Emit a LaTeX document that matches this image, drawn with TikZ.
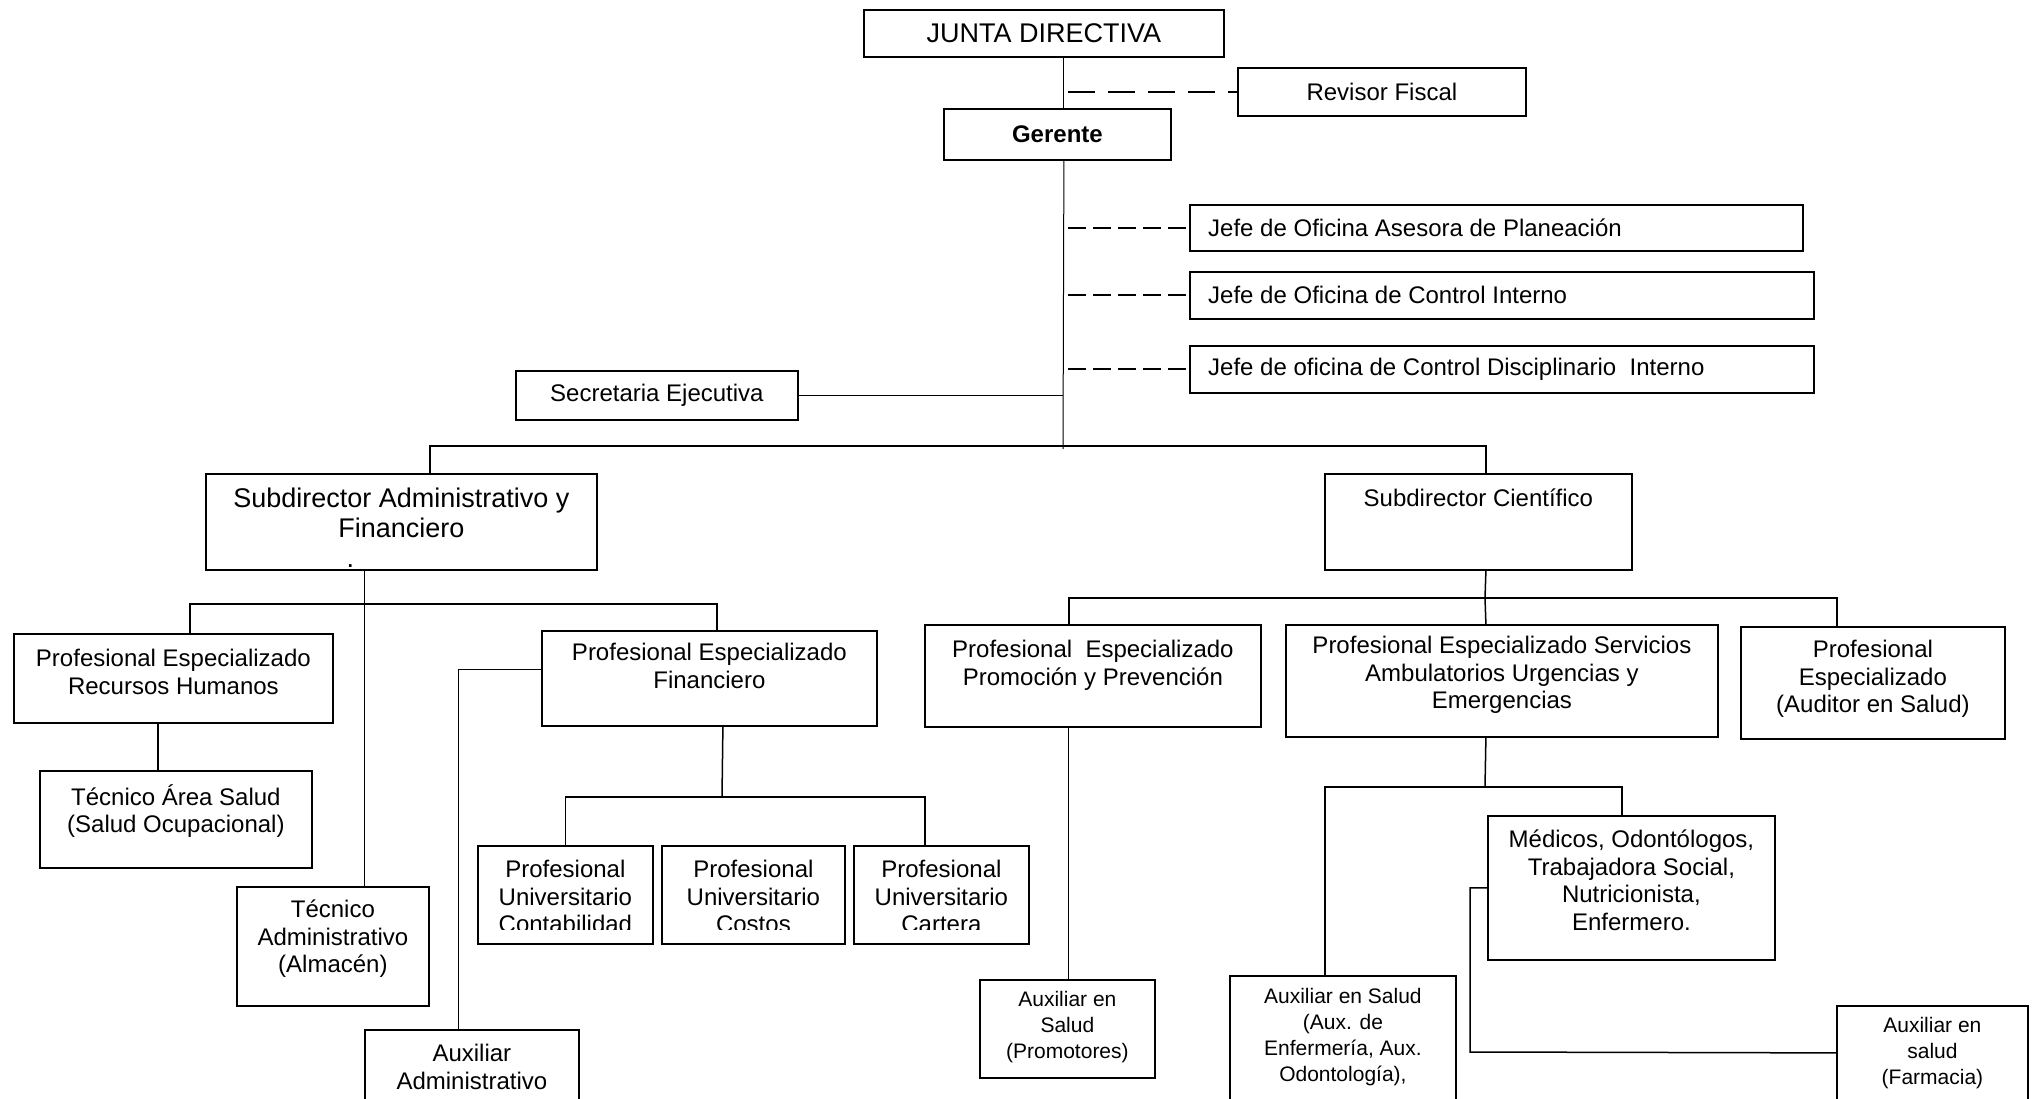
\documentclass[tikz,border=0pt]{standalone}
\usepackage{fontspec}
\setmainfont{Liberation Sans}
\usetikzlibrary{positioning,scopes}

\begin{document}
\begin{tikzpicture}[x=1pt,y=-1pt,
    box/.style={draw,line width=1.8pt,inner sep=0pt,anchor=north west,font=\fontsize{24}{27.5}\selectfont},
    txt/.style={inner sep=0pt,align=center,font=\fontsize{24}{27.5}\selectfont,execute at begin node=\strut},
    lefttxt/.style={inner sep=0pt,font=\fontsize{24}{27.5}\selectfont},
    big/.style={font=\fontsize{27}{30}\selectfont},
    small/.style={font=\fontsize{21}{26}\selectfont},
    link/.style={line width=1.5pt},
    thinlink/.style={line width=1pt},
    staff/.style={line width=2pt,dash pattern=on 27pt off 13pt},
    advisor/.style={line width=2pt,dash pattern=on 18pt off 7pt},]
\path[use as bounding box,fill=white] (0,0) rectangle (2033,1099);

% direccion
\node[box,big,minimum width=360pt,minimum height=47pt] (jd) at (863,9) {JUNTA DIRECTIVA};
\node[box,minimum width=288pt,minimum height=48pt] (rf) at (1237,67) {Revisor Fiscal};
\node[box,minimum width=227pt,minimum height=51pt] (ger) at (943,108) {\textbf{Gerente}};
\node[box,minimum width=613pt,minimum height=46pt] (pla) at (1189,204) {};
\node[box,minimum width=624pt,minimum height=47pt] (ci) at (1189,271) {};
\node[box,minimum width=624pt,minimum height=47pt] (cdi) at (1189,345) {};
\node[box,minimum width=282pt,minimum height=49pt] (sec) at (515,370) {Secretaria Ejecutiva};
\node[lefttxt,right=19pt of pla.west] (pla-t) {Jefe de Oficina Asesora de Planeación};
\node[lefttxt,right=19pt of ci.west] (ci-t) {Jefe de Oficina de Control Interno};
\node[lefttxt,right=19pt of cdi.west] (cdi-t) {Jefe de oficina de Control Disciplinario~ Interno};

% subdirecciones
\node[box,minimum width=391pt,minimum height=96pt] (sadm) at (205,473) {};
\node[box,minimum width=307pt,minimum height=96pt] (scie) at (1324,473) {};
\node[txt,big,below=15pt of sadm.north] (sadm-t) {Subdirector Administrativo y\\Financiero\\.\hspace*{102pt}};
\node[txt,below=14pt of scie.north] (scie-t) {Subdirector Científico};

% area administrativa
\node[box,minimum width=319pt,minimum height=89pt] (rrhh) at (13,633) {};
\node[box,minimum width=272pt,minimum height=97pt] (tas) at (39,770) {};
\node[box,minimum width=192pt,minimum height=119pt] (tadm) at (236,886) {};
\node[box,minimum width=335pt,minimum height=95pt] (fin) at (541,630) {};
\node[box,minimum width=175pt,minimum height=98pt] (cont) at (477,845) {};
\node[box,minimum width=183pt,minimum height=98pt] (cost) at (661,845) {};
\node[box,minimum width=175pt,minimum height=98pt] (cart) at (853,845) {};
\node[box,minimum width=214pt,minimum height=101pt] (aadm) at (364,1029) {};
\node[txt,below=16pt of rrhh.north] (rrhh-t) {Profesional Especializado\\Recursos Humanos};
\node[txt,below=14pt of tas.north] (tas-t) {Técnico Área Salud\\(Salud Ocupacional)};
\node[txt,below=14pt of tadm.north] (tadm-t) {Técnico\\Administrativo\\(Almacén)};
\node[txt,below=13pt of fin.north] (fin-t) {Profesional Especializado\\Financiero};
\node[txt,below=15pt of aadm.north] (aadm-t) {Auxiliar\\Administrativo};
\begin{scope}
    \clip (477,845) rectangle (1028,929);
    \node[txt,below=15pt of cont.north] (cont-t) {Profesional\\Universitario\\Contabilidad};
    \node[txt,below=15pt of cost.north] (cost-t) {Profesional\\Universitario\\Costos};
    \node[txt,below=15pt of cart.north] (cart-t) {Profesional\\Universitario\\Cartera};
\end{scope}

% area cientifica
\node[box,minimum width=336pt,minimum height=102pt] (prom) at (924,624) {};
\node[box,minimum width=432pt,minimum height=112pt] (serv) at (1285,624) {};
\node[box,minimum width=264pt,minimum height=112pt] (aud) at (1740,626) {};
\node[box,minimum width=175pt,minimum height=98pt] (pmt) at (979,979) {};
\node[box,minimum width=287pt,minimum height=144pt] (med) at (1487,815) {};
\node[box,minimum width=226pt,minimum height=155pt] (aenf) at (1229,975) {};
\node[box,minimum width=191pt,minimum height=125pt] (farm) at (1836,1005) {};
\node[txt,below=16pt of prom.north] (prom-t) {Profesional~ Especializado\\Promoción y Prevención};
\node[txt,below=12pt of serv.north] (serv-t) {Profesional Especializado Servicios\\Ambulatorios Urgencias y\\Emergencias};
\node[txt,below=14pt of aud.north] (aud-t) {Profesional\\Especializado\\(Auditor en Salud)};
\node[txt,small,below=12pt of pmt.north] (pmt-t) {Auxiliar en\\Salud\\(Promotores)};
\node[txt,below=15pt of med.north] (med-t) {Médicos, Odontólogos,\\Trabajadora Social,\\Nutricionista,\\Enfermero.};
\node[txt,small,below=13pt of aenf.north] (aenf-t) {Auxiliar en Salud\\(Aux. de\\Enfermería, Aux.\\Odontología),};
\node[txt,small,below=12pt of farm.north] (farm-t) {Auxiliar en\\salud\\(Farmacia)};

% conectores
\coordinate (dstart) at (1068,0);
\coordinate (spine) at (1063,449);
\coordinate (bus) at (1063,446);
\coordinate (admbus) at (364,604);
\coordinate (finbus) at (722,797);
\coordinate (ciebus) at (1485,598);
\coordinate (servbus) at (1485,787);
\coordinate (farmcorner) at (1470,1052);
{[thinlink]
    \draw ([xshift=20pt]jd.south) -- ([xshift=6.5pt]ger.north);
    \draw ([xshift=6.5pt]ger.south) -- (spine);
    \draw ([xshift=-36.5pt]sadm.south) -- ([xshift=32pt]tadm.north);
    \draw ([yshift=8.5pt]fin.west) -| ([xshift=-13pt]aadm.north);
    \draw ([xshift=-24pt]prom.south) -- ([xshift=1.5pt]pmt.north);
}
\draw[staff] (rf.west -| dstart) -- (rf.west);
{[advisor]
    \draw (pla.west -| dstart) -- (pla.west);
    \draw (ci.west -| dstart) -- (ci.west);
    \draw (cdi.west -| dstart) -- (cdi.west);
}
{[link]
    \draw (sec.east) -- (sec.east -| spine);
    \draw ([xshift=28.5pt]sadm.north) |- (bus) -| ([xshift=7.5pt]scie.north);
    \draw ([xshift=16.5pt]rrhh.north) |- (admbus) -| ([xshift=7.5pt]fin.north);
    \draw ([xshift=-15.5pt]rrhh.south) -- ([xshift=-18pt]tas.north);
    \draw ([xshift=13.5pt]fin.south) -- (finbus);
    \draw (cont.north) |- (finbus) -| ([xshift=-16.5pt]cart.north);
    \draw ([xshift=7.5pt]scie.south) -- (ciebus);
    \draw ([xshift=-24pt]prom.north) |- (ciebus) -| ([xshift=-36pt]aud.north);
    \draw (ciebus) -- ([xshift=-16pt]serv.north);
    \draw ([xshift=-16pt]serv.south) -- (servbus);
    \draw ([xshift=-18pt]aenf.north) |- (servbus) -| ([xshift=-9.5pt]med.north);
    \draw (med.west) -| (farmcorner) -- ([yshift=15.5pt]farm.west);
}
\end{tikzpicture}
\end{document}
